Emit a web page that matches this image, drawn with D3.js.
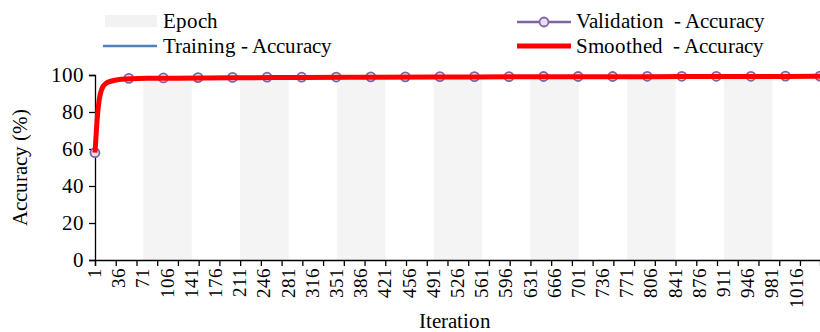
<html>
<head>
<meta charset="utf-8">
<script src="https://cdn.jsdelivr.net/npm/d3@7"></script>
<style>
  @font-face { font-family: "ChartSerif"; src: local("Liberation Serif"), local("LiberationSerif"), local("Tinos"), local("FreeSerif"); }
  svg text { font-family: "ChartSerif", "Liberation Serif", Tinos, "Times New Roman", FreeSerif, "Noto Serif", serif !important; }
</style>
</head>
<body style="margin:0">
<div id="container"></div>
<script>
// epoch start iterations (70 iterations per epoch)
const epochStarts = [1, 71, 141, 211, 281, 351, 421, 491, 561, 631, 701, 771, 841, 911, 981];
const epochLength = 70;

// x tick labels
const xTickLabels = [1, 36, 71, 106, 141, 176, 211, 246, 281, 316, 351, 386, 421, 456, 491,
  526, 561, 596, 631, 666, 701, 736, 771, 806, 841, 876, 911, 946, 981, 1016];
const yTicks = [0, 20, 40, 60, 80, 100];

// validation accuracy, every 50 iterations
const valIters = [1, 50, 100, 150, 200, 250, 300, 350, 400, 450, 500, 550, 600, 650, 700,
  750, 800, 850, 900, 950, 1000, 1050];
const valAcc = [58, 98.2, 98.4, 98.6, 98.7, 98.8, 98.8, 98.9, 99.0, 99.0, 99.1, 99.1,
  99.1, 99.2, 99.2, 99.2, 99.3, 99.3, 99.3, 99.3, 99.4, 99.4];

// training accuracy (hidden under the smoothed line)
const trainIters = [1, 3, 5, 8, 12, 20, 30, 50, 80, 120, 200, 300, 400, 500, 600, 700, 800, 900, 1000, 1050];
const trainAcc = [58, 70, 81, 89, 93.5, 96, 97.2, 98.0, 98.3, 98.4, 98.5, 98.7, 98.9, 98.9, 99.0, 99.1, 99.1, 99.2, 99.2, 99.3];

// smoothed accuracy
const smoothIters = [1, 2, 3, 4, 5, 6, 8, 10, 13, 17, 22, 30, 40, 55, 80, 120, 200, 300, 400,
  500, 600, 700, 800, 900, 1000, 1050];
const smoothAcc = [58, 64, 70, 75.5, 80, 83.5, 88.5, 91.5, 94, 95.5, 96.4, 97.2, 97.7, 98.0,
  98.2, 98.3, 98.5, 98.7, 98.8, 98.9, 99.0, 99.1, 99.1, 99.2, 99.2, 99.3];

const w = 820, h = 332;
const padLeft = 95, padRight = 820, padTop = 75, padBottom = 260;

const svg = d3.select("#container").append("svg")
  .attr("width", w).attr("height", h);

const x = d3.scaleLinear().domain([1, 1050]).range([padLeft, padRight]);
const y = d3.scaleLinear().domain([0, 100]).range([padBottom, padTop]);

// epoch bands (every other epoch shaded)
svg.append("g").selectAll("rect")
  .data(epochStarts.filter((d, i) => i % 2 === 1))
  .enter().append("rect")
  .attr("x", d => x(d))
  .attr("width", d => x(d + epochLength) - x(d))
  .attr("y", y(100))
  .attr("height", y(0) - y(100))
  .attr("fill", "#f4f4f4");

// axes
const yAxis = d3.axisLeft(y).tickValues(yTicks).tickSize(6).tickPadding(5);
svg.append("g")
  .attr("transform", `translate(${padLeft},0)`)
  .call(yAxis)
  .attr("font-family", null)
  .attr("font-size", 21)
  .call(g => g.selectAll("text").attr("fill", "#000"))
  .call(g => g.selectAll("line, path").attr("stroke", "#000").attr("stroke-width", 1.3));

const xTickMarks = d3.range(1, 1051, 30);
const xAxis = d3.axisBottom(x).tickValues(xTickMarks).tickSize(6).tickFormat("");
svg.append("g")
  .attr("transform", `translate(0,${padBottom})`)
  .call(xAxis)
  .call(g => g.selectAll("line, path").attr("stroke", "#000").attr("stroke-width", 1.3));

svg.append("g").selectAll("text")
  .data(xTickLabels)
  .enter().append("text")
  .attr("transform", d => `translate(${x(d)},${padBottom + 8})rotate(-90)`)
  .attr("dy", "0.33em")
  .attr("text-anchor", "end")
  .attr("font-size", 18.5)
  .text(d => d);

svg.append("text")
  .attr("transform", `translate(27,${(padTop + padBottom) / 2})rotate(-90)`)
  .attr("text-anchor", "middle")
  .attr("font-size", 20.5)
  .text("Accuracy (%)");

svg.append("text")
  .attr("x", 455).attr("y", 328)
  .attr("text-anchor", "middle")
  .attr("font-size", 21)
  .text("Iteration");

// series
const smoothLine = d3.line().x(d => x(d[0])).y(d => y(d[1])).curve(d3.curveMonotoneX);

svg.append("path")
  .datum(trainIters.map((d, i) => [d, trainAcc[i]]))
  .attr("d", smoothLine)
  .attr("fill", "none").attr("stroke", "#4f81bd").attr("stroke-width", 2);

const valData = valIters.map((d, i) => [d, valAcc[i]]);
svg.append("g").selectAll("circle")
  .data(valData)
  .enter().append("circle")
  .attr("cx", d => x(d[0])).attr("cy", d => y(d[1]))
  .attr("r", 4.5)
  .attr("fill", "#e6e0ef").attr("stroke", "#8064a2").attr("stroke-width", 1.8);

svg.append("path")
  .datum(smoothIters.map((d, i) => [d, smoothAcc[i]]))
  .attr("d", smoothLine)
  .attr("fill", "none").attr("stroke", "#ff0000").attr("stroke-width", 5)
  .attr("stroke-linejoin", "round");

// legend
const legend = svg.append("g");
const legendText = (xp, yp, label) => legend.append("text")
  .attr("x", xp).attr("y", yp)
  .attr("font-size", 21)
  .attr("xml:space", "preserve")
  .style("white-space", "pre")
  .text(label);

legend.append("rect").attr("x", 105).attr("y", 15).attr("width", 52).attr("height", 12).attr("fill", "#f2f2f2");
legendText(163, 28, "Epoch");

legend.append("line").attr("x1", 103).attr("x2", 157).attr("y1", 46).attr("y2", 46)
  .attr("stroke", "#4f81bd").attr("stroke-width", 2.5);
legendText(163, 53, "Training - Accuracy");

legend.append("line").attr("x1", 517).attr("x2", 571).attr("y1", 22).attr("y2", 22)
  .attr("stroke", "#8064a2").attr("stroke-width", 2.5);
legend.append("circle").attr("cx", 544).attr("cy", 22).attr("r", 4.5)
  .attr("fill", "#e6e0ef").attr("stroke", "#8064a2").attr("stroke-width", 1.8);
legendText(576, 28, "Validation  - Accuracy");

legend.append("line").attr("x1", 517).attr("x2", 571).attr("y1", 46).attr("y2", 46)
  .attr("stroke", "#ff0000").attr("stroke-width", 5);
legendText(576, 53, "Smoothed  - Accuracy");
</script>
</body>
</html>
